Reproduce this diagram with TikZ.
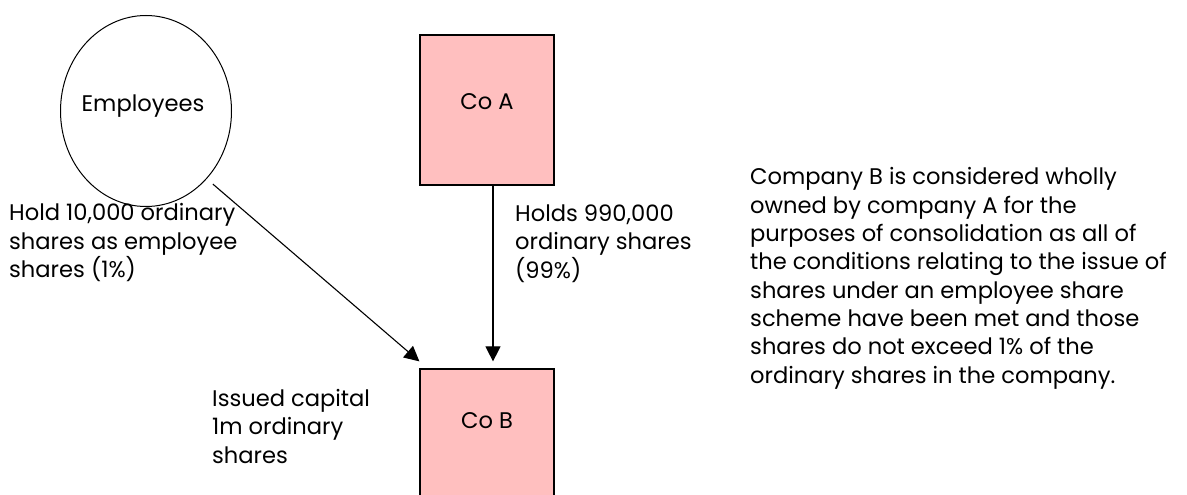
\documentclass[tikz,border=0pt]{standalone}
\usepackage{fontspec}
\setmainfont{Poppins}
\usepackage{xcolor}
\usetikzlibrary{arrows.meta}
\usetikzlibrary{shapes.geometric}
\definecolor{rose}{RGB}{255,191,191}

\begin{document}
\begin{tikzpicture}[x=1pt,y=-1pt,
    firm/.style={draw, fill=rose, line width=1.2pt, minimum width=134pt, minimum height=150pt, inner sep=0pt},
    holder/.style={draw, ellipse, line width=1pt, minimum width=171pt, minimum height=191pt, inner sep=0pt},
    txt/.style={font=\fontsize{22.6}{28.3}\selectfont, inner sep=0pt},
    link/.style={line width=1.1pt, -{Triangle[length=15pt,width=15pt]}}]
\useasboundingbox (0,0) rectangle (1187,495);
% les noeuds
\node[holder] (emp) at (146,111) {};
\node[firm] (coa) at (487,110) {};
\node[firm] (cob) at (487,444) {};
\node[txt, anchor=base] (emplabel) at ([xshift=-3pt]emp.center) {Employees};
\node[txt, anchor=base] (coalabel) at ([yshift=-75pt]coa.north) {Co A};
\node[txt, anchor=base] (coblabel) at ([yshift=-60pt]cob.north) {Co B};
% fleches
\draw[link, shorten <=8pt] (emp.south east) -- ([yshift=7pt]cob.north west);
\draw[link] ([xshift=6pt]coa.south) -- ([xshift=6pt,yshift=7pt]cob.north);
% textes (ancre sur la derniere ligne)
\node[txt, anchor=base west, align=left] (hold) at (9,277.5) {Hold 10,000 ordinary\\shares as employee\\shares (1\%)};
\node[txt, anchor=base west, align=left] (holds) at (515,278) {Holds 990,000\\ordinary shares\\(99\%)};
\node[txt, anchor=base west, align=left] (issued) at (212,463) {Issued capital\\1m ordinary\\shares};
\node[txt, anchor=base west, align=left] (note) at (750,383) {Company B is considered wholly\\owned by company A for the\\purposes of consolidation as all of\\the conditions relating to the issue of\\shares under an employee share\\scheme have been met and those\\shares do not exceed 1\% of the\\ordinary shares in the company.};
\end{tikzpicture}
\end{document}
